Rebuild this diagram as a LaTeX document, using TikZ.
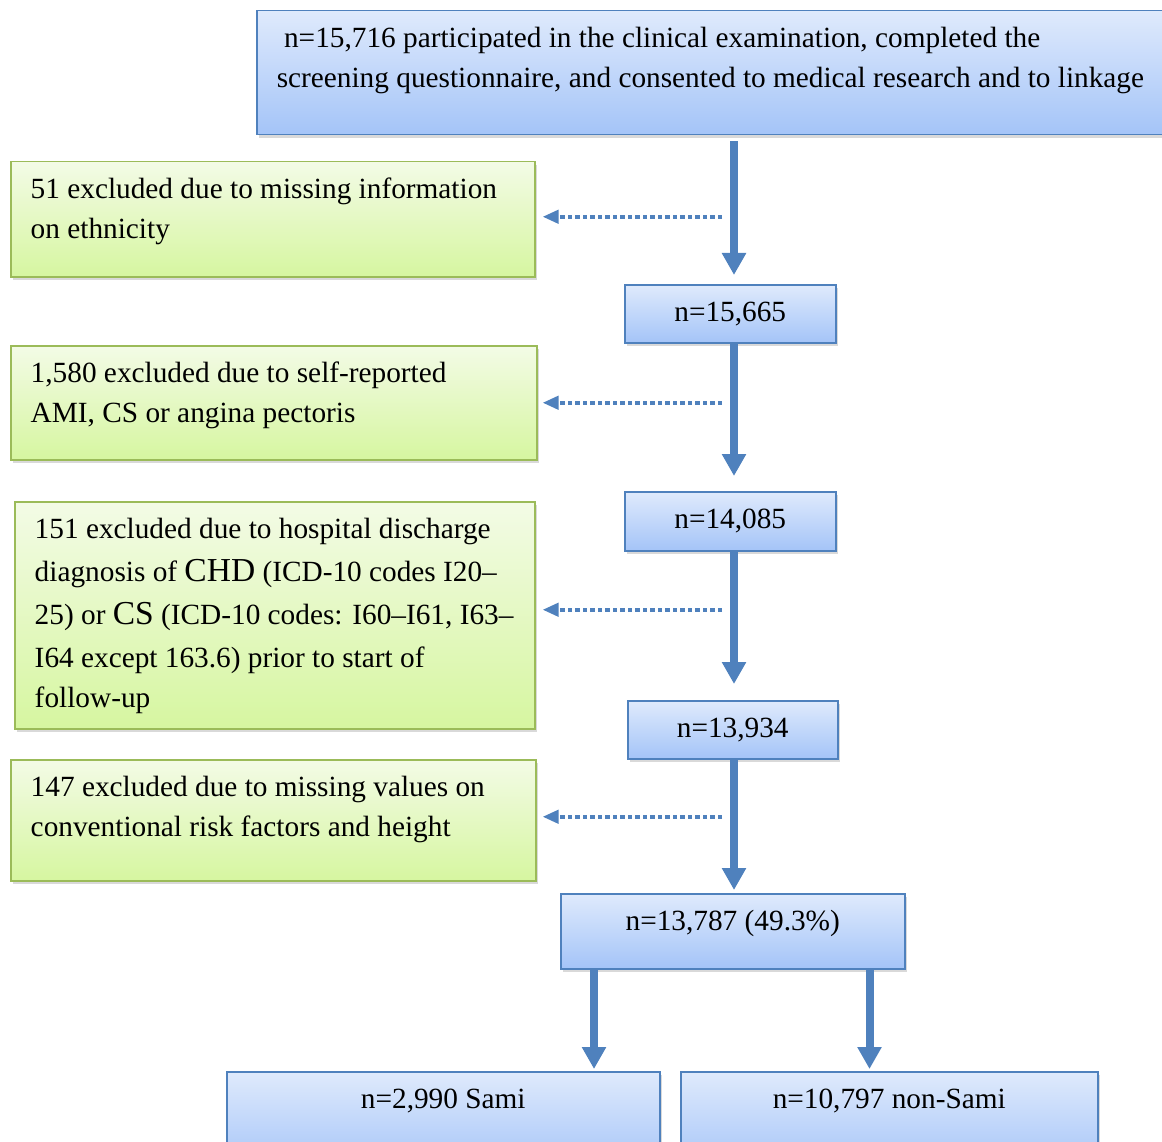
\documentclass[tikz,border=0pt]{standalone}
\usepackage{fontspec}
\setmainfont{Liberation Serif}
\usepackage{tikz}
\usetikzlibrary{arrows.meta, positioning, shadows}
\definecolor{flowblue}{RGB}{79,129,189}
\definecolor{blueTop}{RGB}{223,234,252}
\definecolor{blueBot}{RGB}{164,196,248}
\definecolor{flowgreen}{RGB}{155,187,89}
\definecolor{greenTop}{RGB}{243,251,230}
\definecolor{greenBot}{RGB}{214,246,160}
\newcommand{\flowL}[3]{\parbox[c][#2][t]{#1}{\raggedright\leftskip=20pt\relax\rule{0pt}{36.5pt}#3}}
\newcommand{\flowC}[3]{\parbox[c][#2][t]{#1}{\centering\rule{0pt}{36.5pt}#3}}
\newcommand{\bigtxt}[1]{{\fontsize{33.5}{40}\selectfont #1}}

\begin{document}
\begin{tikzpicture}[
    x=1pt, y=-1pt,
    font=\fontsize{29.3}{40}\selectfont,
    flowbox/.style={rectangle, anchor=north west, inner sep=0pt, line width=1.5pt,
        drop shadow={shadow xshift=2.5pt, shadow yshift=-3pt, opacity=0.3}},
    countbox/.style={flowbox, draw=flowblue, top color=blueTop, bottom color=blueBot},
    exclbox/.style={flowbox, draw=flowgreen, top color=greenTop, bottom color=greenBot},
    mainarr/.style={-{Triangle[length=22pt, width=23pt]}, line width=8pt, flowblue},
    sidearr/.style={-{Triangle[length=16pt, width=13pt]}, line width=4pt, dash pattern=on 4.5pt off 3pt, flowblue}
]
\useasboundingbox (0,0) rectangle (1162,1142);

\coordinate (spine) at (734,0);

\node[countbox] (top) at (256,10) {\flowL{920pt}{124pt}{~n=15,716 participated in the clinical examination, completed the\\ screening questionnaire, and consented to medical research and to linkage}};

\node[exclbox] (excl1) at (10,161) {\flowL{524pt}{115pt}{51 excluded due to missing information\\ on ethnicity}};
\node[countbox] (n1) at (624,284) {\flowC{211pt}{58pt}{n=15,665}};

\node[exclbox] (excl2) at (10,345) {\flowL{526pt}{114pt}{1,580 excluded due to self-reported\\ AMI, CS or angina pectoris}};
\node[countbox] (n2) at (624,491) {\flowC{211pt}{59pt}{n=14,085}};

\node[exclbox] (excl3) at (14,501) {\flowL{520pt}{227pt}{151 excluded due to hospital discharge\\[3pt] diagnosis of \bigtxt{CHD} (ICD-10 codes I20--\\[3pt] 25) or \bigtxt{CS} (ICD-10 codes: I60--I61, I63--\\[3pt] I64 except 163.6) prior to start of\\ follow-up}};
\node[countbox] (n3) at (627,700) {\flowC{210pt}{58pt}{n=13,934}};

\node[exclbox] (excl4) at (10,759) {\flowL{525pt}{121pt}{147 excluded due to missing values on\\ conventional risk factors and height}};
\node[countbox] (final) at (560,893) {\flowC{344pt}{75pt}{n=13,787 (49.3\%)}};

\node[countbox] (sami) at (226,1071) {\flowC{433pt}{100pt}{n=2,990 Sami}};
\node[countbox] (nonsami) at (680,1071) {\flowC{417pt}{100pt}{n=10,797 non-Sami}};

\draw[mainarr, shorten <=6pt, shorten >=9pt] (top.south -| spine) -- (n1.north -| spine);
\draw[mainarr, shorten >=15pt] (n1.south -| spine) -- (n2.north -| spine);
\draw[mainarr, shorten >=16pt] (n2.south -| spine) -- (n3.north -| spine);
\draw[mainarr, shorten >=3pt] (n3.south -| spine) -- (final.north -| spine);

\draw[sidearr] ([xshift=-12pt, yshift=2.5pt]excl1.east -| spine) -- ([xshift=7pt, yshift=2.5pt]excl1.east);
\draw[sidearr] ([xshift=-12pt]excl2.east -| spine) -- ([xshift=5pt]excl2.east);
\draw[sidearr] ([xshift=-12pt, yshift=5.5pt]excl3.east -| spine) -- ([xshift=7pt, yshift=5.5pt]excl3.east);
\draw[sidearr] ([xshift=-12pt, yshift=3.5pt]excl4.east -| spine) -- ([xshift=6pt, yshift=3.5pt]excl4.east);

\draw[mainarr, shorten >=2pt] ([xshift=34pt]final.south west) -- ([xshift=34pt]final.south west |- sami.north);
\draw[mainarr, shorten >=2pt] ([xshift=-36pt]final.south east) -- ([xshift=-36pt]final.south east |- nonsami.north);

\end{tikzpicture}
\end{document}
